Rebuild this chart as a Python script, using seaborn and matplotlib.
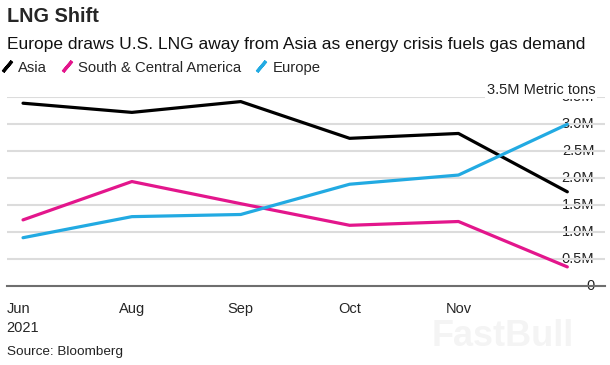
import matplotlib
matplotlib.use("Agg")
import matplotlib.pyplot as plt
from matplotlib.lines import Line2D
import seaborn as sns
import pandas as pd

# values (million metric tons)
points = [0, 1, 2, 3, 4, 5]
asia = [3.38, 3.21, 3.41, 2.73, 2.82, 1.74]
south_central_america = [1.22, 1.93, 1.52, 1.12, 1.19, 0.35]
europe = [0.89, 1.28, 1.32, 1.88, 2.05, 2.99]

tick_pos = [0, 1, 2, 3, 4]
tick_labels = ["Jun\n2021", "Aug", "Sep", "Oct", "Nov"]
y_ticks = [0, 0.5, 1.0, 1.5, 2.0, 2.5, 3.0, 3.5]
y_labels = ["0", "0.5M", "1.0M", "1.5M", "2.0M", "2.5M", "3.0M", "3.5M"]

series = ["Asia", "South & Central America", "Europe"]
colors = {"Asia": "#000000", "South & Central America": "#e3168c", "Europe": "#22aae2"}

df = pd.DataFrame({
    "x": points * 3,
    "value": asia + south_central_america + europe,
    "region": [s for s in series for _ in points],
})

sns.set_style("white")
plt.rcParams["font.family"] = ["Liberation Sans", "DejaVu Sans"]

fig = plt.figure(figsize=(6.1, 3.65), dpi=100)
ax = fig.add_axes([0.0115, 0.217, 0.981, 0.518])

sns.lineplot(data=df, x="x", y="value", hue="region", palette=colors,
             linewidth=2.3, legend=False, ax=ax, zorder=3)

ax.set_xlim(-0.147, 5.35)
ax.set_ylim(0, 3.5)
ax.set_xlabel("")
ax.set_ylabel("")

# gridlines
for v in y_ticks[1:]:
    ax.axhline(v, color="#dcdcdc", linewidth=1.5, zorder=1)

for side in ["top", "left", "right"]:
    ax.spines[side].set_visible(False)
ax.spines["bottom"].set_color("#6e6e6e")
ax.spines["bottom"].set_linewidth(1.5)

ax.set_xticks(tick_pos)
ax.set_xticklabels(tick_labels, fontsize=10.5, ha="center", multialignment="left",
                   linespacing=1.45)
ax.tick_params(axis="x", direction="out", length=5, width=1.2, color="#6e6e6e", pad=7)

ax.yaxis.tick_right()
ax.set_yticks(y_ticks)
ax.set_yticklabels(y_labels, fontsize=10.5, color="#222222")
ax.tick_params(axis="y", length=0, pad=-8)
for lbl in ax.get_yticklabels():
    lbl.set_horizontalalignment("right")
    lbl.set_verticalalignment("center")

ax.text(0.9835, 1.035, "3.5M Metric tons", transform=ax.transAxes, ha="right",
        va="center", fontsize=10.5, color="#222222", zorder=5,
        bbox=dict(facecolor="white", edgecolor="none", pad=1.0))

fig.text(0.011, 0.955, "LNG Shift", fontsize=14.3, fontweight="bold", va="center")
fig.text(0.011, 0.878, "Europe draws U.S. LNG away from Asia as energy crisis fuels gas demand",
         fontsize=12.5, va="center", color="#111111")

handles = [Line2D([], [], color=colors[s], marker=(2, 2, -40), markersize=10,
                  markeredgewidth=2.3, linestyle="none") for s in series]
fig.legend(handles, series, loc="center left", bbox_to_anchor=(0.0, 0.815), ncol=3,
           frameon=False, fontsize=10.7, handlelength=0.9, handletextpad=0.3,
           columnspacing=0.9, borderaxespad=0, borderpad=0)

fig.text(0.011, 0.036, "Source: Bloomberg", fontsize=9.7, va="center", color="#222222")
fig.text(0.825, 0.078, "FastBull", fontsize=26, fontweight="bold", color="#f4f4f4",
         va="center", ha="center")

fig.savefig("out.png", dpi=100)
